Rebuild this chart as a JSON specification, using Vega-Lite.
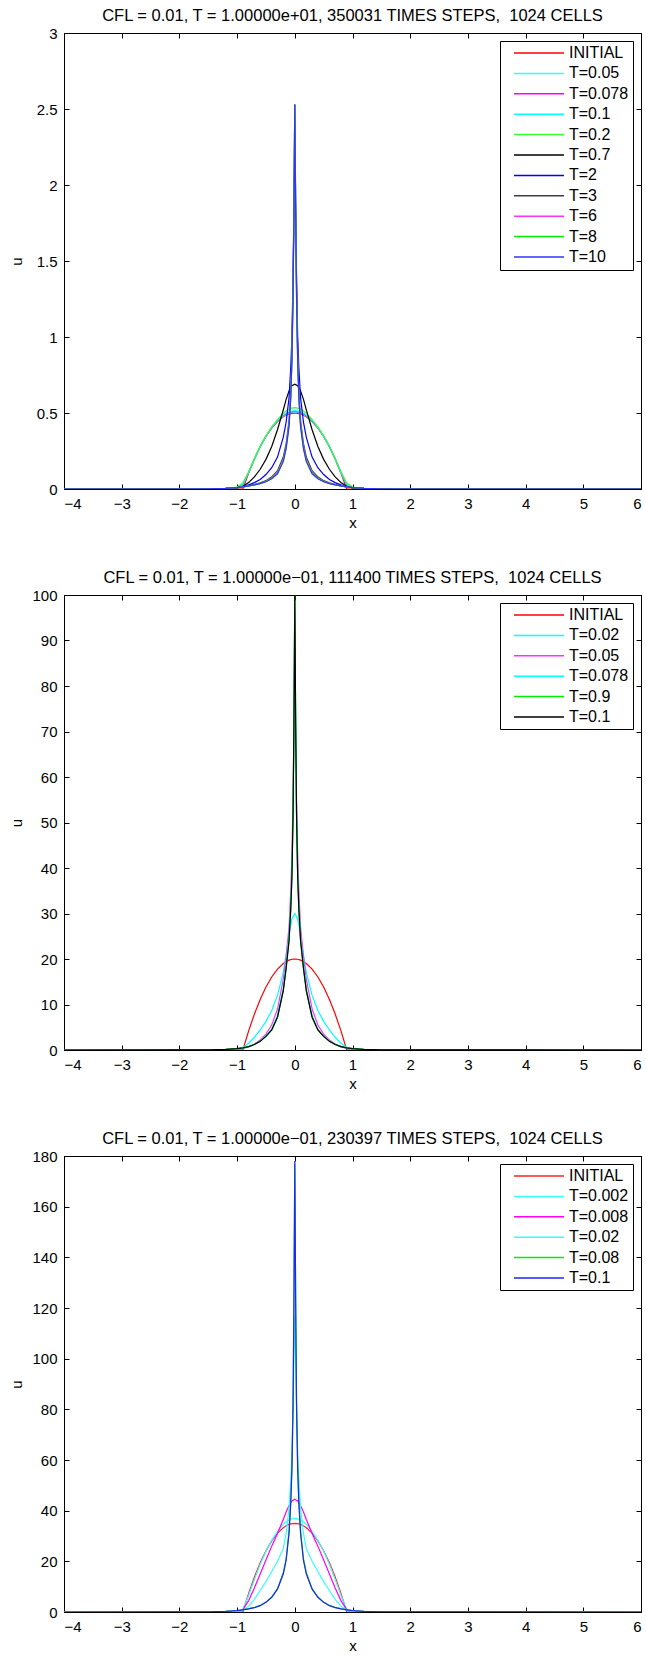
{
"$schema": "https://vega.github.io/schema/vega-lite/v6.json",
"background": "white",
"padding": {"left": 8, "top": 7, "right": 0, "bottom": 0},
"spacing": 38,
"config": {
  "font": "Liberation Sans",
  "view": {"stroke": "black", "strokeWidth": 1},
  "axis": {"grid": false, "domainColor": "black", "tickColor": "black", "labelColor": "black", "titleColor": "black", "labelFont": "Liberation Sans", "labelFontSize": 15, "titleFont": "Liberation Sans", "titleFontSize": 15, "titleFontWeight": "normal", "tickSize": -5, "labelPadding": 12, "domainWidth": 1, "tickWidth": 1},
  "title": {"font": "Liberation Sans", "fontSize": 16.5, "fontWeight": "normal", "color": "black", "frame": "group", "offset": 2},
  "legend": {"orient": "top-right", "offset": 8, "title": null, "symbolType": "M-5,0H5", "symbolSize": 100, "symbolStrokeWidth": 1.5, "symbolFillColor": "transparent", "symbolOffset": 27, "labelFont": "Liberation Sans", "labelFontSize": 16, "labelColor": "black", "strokeColor": "black", "fillColor": "white", "padding": 4, "rowPadding": 4.4, "labelOffset": 22, "labelLimit": 200}
},
"resolve": {"scale": {"color": "independent"}, "legend": {"color": "independent"}},
"vconcat": [
{
  "width": 577, "height": 456,
  "title": "CFL = 0.01, T = 1.00000e+01, 350031 TIMES STEPS, \u00a01024 CELLS",
  "data": {"values": [
{"s":"INITIAL","x":-4,"u":0},{"s":"INITIAL","x":-2,"u":0},{"s":"INITIAL","x":-1.5,"u":0},{"s":"INITIAL","x":-1.2,"u":0},{"s":"INITIAL","x":-1,"u":0},{"s":"INITIAL","x":-0.9,"u":0},{"s":"INITIAL","x":-0.8,"u":0.105},{"s":"INITIAL","x":-0.7,"u":0.198},{"s":"INITIAL","x":-0.6,"u":0.278},{"s":"INITIAL","x":-0.5,"u":0.346},{"s":"INITIAL","x":-0.4,"u":0.401},{"s":"INITIAL","x":-0.3,"u":0.444},{"s":"INITIAL","x":-0.2,"u":0.475},{"s":"INITIAL","x":-0.15,"u":0.486},{"s":"INITIAL","x":-0.1,"u":0.494},{"s":"INITIAL","x":-0.05,"u":0.498},{"s":"INITIAL","x":0,"u":0.5},{"s":"INITIAL","x":0.05,"u":0.498},{"s":"INITIAL","x":0.1,"u":0.494},{"s":"INITIAL","x":0.15,"u":0.486},{"s":"INITIAL","x":0.2,"u":0.475},{"s":"INITIAL","x":0.3,"u":0.444},{"s":"INITIAL","x":0.4,"u":0.401},{"s":"INITIAL","x":0.5,"u":0.346},{"s":"INITIAL","x":0.6,"u":0.278},{"s":"INITIAL","x":0.7,"u":0.198},{"s":"INITIAL","x":0.8,"u":0.105},{"s":"INITIAL","x":0.9,"u":0},{"s":"INITIAL","x":1,"u":0},{"s":"INITIAL","x":1.2,"u":0},{"s":"INITIAL","x":1.5,"u":0},{"s":"INITIAL","x":2,"u":0},{"s":"INITIAL","x":6,"u":0},
{"s":"T=0.05","x":-4,"u":0},{"s":"T=0.05","x":-2,"u":0},{"s":"T=0.05","x":-1.5,"u":0},{"s":"T=0.05","x":-1.2,"u":0.001},{"s":"T=0.05","x":-1,"u":0.006},{"s":"T=0.05","x":-0.9,"u":0.025},{"s":"T=0.05","x":-0.8,"u":0.108},{"s":"T=0.05","x":-0.7,"u":0.198},{"s":"T=0.05","x":-0.6,"u":0.279},{"s":"T=0.05","x":-0.5,"u":0.347},{"s":"T=0.05","x":-0.4,"u":0.403},{"s":"T=0.05","x":-0.3,"u":0.447},{"s":"T=0.05","x":-0.2,"u":0.479},{"s":"T=0.05","x":-0.15,"u":0.491},{"s":"T=0.05","x":-0.1,"u":0.5},{"s":"T=0.05","x":-0.05,"u":0.504},{"s":"T=0.05","x":0,"u":0.506},{"s":"T=0.05","x":0.05,"u":0.504},{"s":"T=0.05","x":0.1,"u":0.5},{"s":"T=0.05","x":0.15,"u":0.491},{"s":"T=0.05","x":0.2,"u":0.479},{"s":"T=0.05","x":0.3,"u":0.447},{"s":"T=0.05","x":0.4,"u":0.403},{"s":"T=0.05","x":0.5,"u":0.347},{"s":"T=0.05","x":0.6,"u":0.279},{"s":"T=0.05","x":0.7,"u":0.198},{"s":"T=0.05","x":0.8,"u":0.108},{"s":"T=0.05","x":0.9,"u":0.025},{"s":"T=0.05","x":1,"u":0.006},{"s":"T=0.05","x":1.2,"u":0.001},{"s":"T=0.05","x":1.5,"u":0},{"s":"T=0.05","x":2,"u":0},{"s":"T=0.05","x":6,"u":0},
{"s":"T=0.078","x":-4,"u":0},{"s":"T=0.078","x":-2,"u":0},{"s":"T=0.078","x":-1.5,"u":0},{"s":"T=0.078","x":-1.2,"u":0.002},{"s":"T=0.078","x":-1,"u":0.008},{"s":"T=0.078","x":-0.9,"u":0.03},{"s":"T=0.078","x":-0.8,"u":0.109},{"s":"T=0.078","x":-0.7,"u":0.198},{"s":"T=0.078","x":-0.6,"u":0.279},{"s":"T=0.078","x":-0.5,"u":0.347},{"s":"T=0.078","x":-0.4,"u":0.404},{"s":"T=0.078","x":-0.3,"u":0.449},{"s":"T=0.078","x":-0.2,"u":0.482},{"s":"T=0.078","x":-0.15,"u":0.495},{"s":"T=0.078","x":-0.1,"u":0.504},{"s":"T=0.078","x":-0.05,"u":0.508},{"s":"T=0.078","x":0,"u":0.51},{"s":"T=0.078","x":0.05,"u":0.508},{"s":"T=0.078","x":0.1,"u":0.504},{"s":"T=0.078","x":0.15,"u":0.495},{"s":"T=0.078","x":0.2,"u":0.482},{"s":"T=0.078","x":0.3,"u":0.449},{"s":"T=0.078","x":0.4,"u":0.404},{"s":"T=0.078","x":0.5,"u":0.347},{"s":"T=0.078","x":0.6,"u":0.279},{"s":"T=0.078","x":0.7,"u":0.198},{"s":"T=0.078","x":0.8,"u":0.109},{"s":"T=0.078","x":0.9,"u":0.03},{"s":"T=0.078","x":1,"u":0.008},{"s":"T=0.078","x":1.2,"u":0.002},{"s":"T=0.078","x":1.5,"u":0},{"s":"T=0.078","x":2,"u":0},{"s":"T=0.078","x":6,"u":0},
{"s":"T=0.1","x":-4,"u":0},{"s":"T=0.1","x":-2,"u":0},{"s":"T=0.1","x":-1.5,"u":0},{"s":"T=0.1","x":-1.2,"u":0.002},{"s":"T=0.1","x":-1,"u":0.01},{"s":"T=0.1","x":-0.9,"u":0.033},{"s":"T=0.1","x":-0.8,"u":0.11},{"s":"T=0.1","x":-0.7,"u":0.198},{"s":"T=0.1","x":-0.6,"u":0.279},{"s":"T=0.1","x":-0.5,"u":0.348},{"s":"T=0.1","x":-0.4,"u":0.405},{"s":"T=0.1","x":-0.3,"u":0.451},{"s":"T=0.1","x":-0.2,"u":0.486},{"s":"T=0.1","x":-0.15,"u":0.499},{"s":"T=0.1","x":-0.1,"u":0.508},{"s":"T=0.1","x":-0.05,"u":0.513},{"s":"T=0.1","x":0,"u":0.515},{"s":"T=0.1","x":0.05,"u":0.513},{"s":"T=0.1","x":0.1,"u":0.508},{"s":"T=0.1","x":0.15,"u":0.499},{"s":"T=0.1","x":0.2,"u":0.486},{"s":"T=0.1","x":0.3,"u":0.451},{"s":"T=0.1","x":0.4,"u":0.405},{"s":"T=0.1","x":0.5,"u":0.348},{"s":"T=0.1","x":0.6,"u":0.279},{"s":"T=0.1","x":0.7,"u":0.198},{"s":"T=0.1","x":0.8,"u":0.11},{"s":"T=0.1","x":0.9,"u":0.033},{"s":"T=0.1","x":1,"u":0.01},{"s":"T=0.1","x":1.2,"u":0.002},{"s":"T=0.1","x":1.5,"u":0},{"s":"T=0.1","x":2,"u":0},{"s":"T=0.1","x":6,"u":0},
{"s":"T=0.2","x":-4,"u":0},{"s":"T=0.2","x":-2,"u":0},{"s":"T=0.2","x":-1.5,"u":0.001},{"s":"T=0.2","x":-1.2,"u":0.003},{"s":"T=0.2","x":-1,"u":0.013},{"s":"T=0.2","x":-0.9,"u":0.04},{"s":"T=0.2","x":-0.8,"u":0.112},{"s":"T=0.2","x":-0.7,"u":0.198},{"s":"T=0.2","x":-0.6,"u":0.28},{"s":"T=0.2","x":-0.5,"u":0.35},{"s":"T=0.2","x":-0.4,"u":0.408},{"s":"T=0.2","x":-0.3,"u":0.457},{"s":"T=0.2","x":-0.2,"u":0.497},{"s":"T=0.2","x":-0.15,"u":0.513},{"s":"T=0.2","x":-0.1,"u":0.525},{"s":"T=0.2","x":-0.05,"u":0.532},{"s":"T=0.2","x":0,"u":0.535},{"s":"T=0.2","x":0.05,"u":0.532},{"s":"T=0.2","x":0.1,"u":0.525},{"s":"T=0.2","x":0.15,"u":0.513},{"s":"T=0.2","x":0.2,"u":0.497},{"s":"T=0.2","x":0.3,"u":0.457},{"s":"T=0.2","x":0.4,"u":0.408},{"s":"T=0.2","x":0.5,"u":0.35},{"s":"T=0.2","x":0.6,"u":0.28},{"s":"T=0.2","x":0.7,"u":0.198},{"s":"T=0.2","x":0.8,"u":0.112},{"s":"T=0.2","x":0.9,"u":0.04},{"s":"T=0.2","x":1,"u":0.013},{"s":"T=0.2","x":1.2,"u":0.003},{"s":"T=0.2","x":1.5,"u":0.001},{"s":"T=0.2","x":2,"u":0},{"s":"T=0.2","x":6,"u":0},
{"s":"T=0.7","x":-4,"u":0},{"s":"T=0.7","x":-2,"u":0},{"s":"T=0.7","x":-1.5,"u":0},{"s":"T=0.7","x":-1.2,"u":0.002},{"s":"T=0.7","x":-1,"u":0.007},{"s":"T=0.7","x":-0.9,"u":0.018},{"s":"T=0.7","x":-0.8,"u":0.042},{"s":"T=0.7","x":-0.7,"u":0.08},{"s":"T=0.7","x":-0.6,"u":0.13},{"s":"T=0.7","x":-0.5,"u":0.195},{"s":"T=0.7","x":-0.4,"u":0.28},{"s":"T=0.7","x":-0.3,"u":0.39},{"s":"T=0.7","x":-0.2,"u":0.52},{"s":"T=0.7","x":-0.15,"u":0.59},{"s":"T=0.7","x":-0.1,"u":0.645},{"s":"T=0.7","x":-0.05,"u":0.68},{"s":"T=0.7","x":0,"u":0.69},{"s":"T=0.7","x":0.05,"u":0.68},{"s":"T=0.7","x":0.1,"u":0.645},{"s":"T=0.7","x":0.15,"u":0.59},{"s":"T=0.7","x":0.2,"u":0.52},{"s":"T=0.7","x":0.3,"u":0.39},{"s":"T=0.7","x":0.4,"u":0.28},{"s":"T=0.7","x":0.5,"u":0.195},{"s":"T=0.7","x":0.6,"u":0.13},{"s":"T=0.7","x":0.7,"u":0.08},{"s":"T=0.7","x":0.8,"u":0.042},{"s":"T=0.7","x":0.9,"u":0.018},{"s":"T=0.7","x":1,"u":0.007},{"s":"T=0.7","x":1.2,"u":0.002},{"s":"T=0.7","x":1.5,"u":0},{"s":"T=0.7","x":2,"u":0},{"s":"T=0.7","x":6,"u":0},
{"s":"T=2","x":-4,"u":0},{"s":"T=2","x":-2,"u":0},{"s":"T=2","x":-1.5,"u":0.001},{"s":"T=2","x":-1.2,"u":0.004},{"s":"T=2","x":-1,"u":0.009},{"s":"T=2","x":-0.9,"u":0.016},{"s":"T=2","x":-0.8,"u":0.027},{"s":"T=2","x":-0.7,"u":0.042},{"s":"T=2","x":-0.6,"u":0.063},{"s":"T=2","x":-0.5,"u":0.095},{"s":"T=2","x":-0.4,"u":0.14},{"s":"T=2","x":-0.3,"u":0.21},{"s":"T=2","x":-0.2,"u":0.34},{"s":"T=2","x":-0.15,"u":0.44},{"s":"T=2","x":-0.1,"u":0.6},{"s":"T=2","x":-0.07,"u":0.8},{"s":"T=2","x":-0.05,"u":1.0},{"s":"T=2","x":-0.03,"u":1.4},{"s":"T=2","x":-0.015,"u":1.8},{"s":"T=2","x":0,"u":2.2},{"s":"T=2","x":0.015,"u":1.8},{"s":"T=2","x":0.03,"u":1.4},{"s":"T=2","x":0.05,"u":1.0},{"s":"T=2","x":0.07,"u":0.8},{"s":"T=2","x":0.1,"u":0.6},{"s":"T=2","x":0.15,"u":0.44},{"s":"T=2","x":0.2,"u":0.34},{"s":"T=2","x":0.3,"u":0.21},{"s":"T=2","x":0.4,"u":0.14},{"s":"T=2","x":0.5,"u":0.095},{"s":"T=2","x":0.6,"u":0.063},{"s":"T=2","x":0.7,"u":0.042},{"s":"T=2","x":0.8,"u":0.027},{"s":"T=2","x":0.9,"u":0.016},{"s":"T=2","x":1,"u":0.009},{"s":"T=2","x":1.2,"u":0.004},{"s":"T=2","x":1.5,"u":0.001},{"s":"T=2","x":2,"u":0},{"s":"T=2","x":6,"u":0},
{"s":"T=3","x":-4,"u":0},{"s":"T=3","x":-2,"u":0},{"s":"T=3","x":-1.5,"u":0.001},{"s":"T=3","x":-1.2,"u":0.004},{"s":"T=3","x":-1,"u":0.009},{"s":"T=3","x":-0.9,"u":0.014},{"s":"T=3","x":-0.8,"u":0.021},{"s":"T=3","x":-0.7,"u":0.03},{"s":"T=3","x":-0.6,"u":0.04},{"s":"T=3","x":-0.5,"u":0.055},{"s":"T=3","x":-0.4,"u":0.08},{"s":"T=3","x":-0.3,"u":0.12},{"s":"T=3","x":-0.2,"u":0.21},{"s":"T=3","x":-0.15,"u":0.3},{"s":"T=3","x":-0.1,"u":0.45},{"s":"T=3","x":-0.07,"u":0.65},{"s":"T=3","x":-0.05,"u":0.9},{"s":"T=3","x":-0.03,"u":1.35},{"s":"T=3","x":-0.015,"u":1.9},{"s":"T=3","x":0,"u":2.53},{"s":"T=3","x":0.015,"u":1.9},{"s":"T=3","x":0.03,"u":1.35},{"s":"T=3","x":0.05,"u":0.9},{"s":"T=3","x":0.07,"u":0.65},{"s":"T=3","x":0.1,"u":0.45},{"s":"T=3","x":0.15,"u":0.3},{"s":"T=3","x":0.2,"u":0.21},{"s":"T=3","x":0.3,"u":0.12},{"s":"T=3","x":0.4,"u":0.08},{"s":"T=3","x":0.5,"u":0.055},{"s":"T=3","x":0.6,"u":0.04},{"s":"T=3","x":0.7,"u":0.03},{"s":"T=3","x":0.8,"u":0.021},{"s":"T=3","x":0.9,"u":0.014},{"s":"T=3","x":1,"u":0.009},{"s":"T=3","x":1.2,"u":0.004},{"s":"T=3","x":1.5,"u":0.001},{"s":"T=3","x":2,"u":0},{"s":"T=3","x":6,"u":0},
{"s":"T=6","x":-4,"u":0},{"s":"T=6","x":-2,"u":0},{"s":"T=6","x":-1.5,"u":0.001},{"s":"T=6","x":-1.2,"u":0.004},{"s":"T=6","x":-1,"u":0.009},{"s":"T=6","x":-0.9,"u":0.014},{"s":"T=6","x":-0.8,"u":0.02},{"s":"T=6","x":-0.7,"u":0.028},{"s":"T=6","x":-0.6,"u":0.037},{"s":"T=6","x":-0.5,"u":0.05},{"s":"T=6","x":-0.4,"u":0.072},{"s":"T=6","x":-0.3,"u":0.11},{"s":"T=6","x":-0.2,"u":0.19},{"s":"T=6","x":-0.15,"u":0.28},{"s":"T=6","x":-0.1,"u":0.43},{"s":"T=6","x":-0.07,"u":0.62},{"s":"T=6","x":-0.05,"u":0.86},{"s":"T=6","x":-0.03,"u":1.3},{"s":"T=6","x":-0.015,"u":1.85},{"s":"T=6","x":0,"u":2.53},{"s":"T=6","x":0.015,"u":1.85},{"s":"T=6","x":0.03,"u":1.3},{"s":"T=6","x":0.05,"u":0.86},{"s":"T=6","x":0.07,"u":0.62},{"s":"T=6","x":0.1,"u":0.43},{"s":"T=6","x":0.15,"u":0.28},{"s":"T=6","x":0.2,"u":0.19},{"s":"T=6","x":0.3,"u":0.11},{"s":"T=6","x":0.4,"u":0.072},{"s":"T=6","x":0.5,"u":0.05},{"s":"T=6","x":0.6,"u":0.037},{"s":"T=6","x":0.7,"u":0.028},{"s":"T=6","x":0.8,"u":0.02},{"s":"T=6","x":0.9,"u":0.014},{"s":"T=6","x":1,"u":0.009},{"s":"T=6","x":1.2,"u":0.004},{"s":"T=6","x":1.5,"u":0.001},{"s":"T=6","x":2,"u":0},{"s":"T=6","x":6,"u":0},
{"s":"T=8","x":-4,"u":0},{"s":"T=8","x":-2,"u":0},{"s":"T=8","x":-1.5,"u":0.001},{"s":"T=8","x":-1.2,"u":0.004},{"s":"T=8","x":-1,"u":0.009},{"s":"T=8","x":-0.9,"u":0.014},{"s":"T=8","x":-0.8,"u":0.02},{"s":"T=8","x":-0.7,"u":0.027},{"s":"T=8","x":-0.6,"u":0.036},{"s":"T=8","x":-0.5,"u":0.049},{"s":"T=8","x":-0.4,"u":0.07},{"s":"T=8","x":-0.3,"u":0.105},{"s":"T=8","x":-0.2,"u":0.185},{"s":"T=8","x":-0.15,"u":0.27},{"s":"T=8","x":-0.1,"u":0.42},{"s":"T=8","x":-0.07,"u":0.6},{"s":"T=8","x":-0.05,"u":0.85},{"s":"T=8","x":-0.03,"u":1.28},{"s":"T=8","x":-0.015,"u":1.83},{"s":"T=8","x":0,"u":2.53},{"s":"T=8","x":0.015,"u":1.83},{"s":"T=8","x":0.03,"u":1.28},{"s":"T=8","x":0.05,"u":0.85},{"s":"T=8","x":0.07,"u":0.6},{"s":"T=8","x":0.1,"u":0.42},{"s":"T=8","x":0.15,"u":0.27},{"s":"T=8","x":0.2,"u":0.185},{"s":"T=8","x":0.3,"u":0.105},{"s":"T=8","x":0.4,"u":0.07},{"s":"T=8","x":0.5,"u":0.049},{"s":"T=8","x":0.6,"u":0.036},{"s":"T=8","x":0.7,"u":0.027},{"s":"T=8","x":0.8,"u":0.02},{"s":"T=8","x":0.9,"u":0.014},{"s":"T=8","x":1,"u":0.009},{"s":"T=8","x":1.2,"u":0.004},{"s":"T=8","x":1.5,"u":0.001},{"s":"T=8","x":2,"u":0},{"s":"T=8","x":6,"u":0},
{"s":"T=10","x":-4,"u":0},{"s":"T=10","x":-2,"u":0},{"s":"T=10","x":-1.5,"u":0.001},{"s":"T=10","x":-1.2,"u":0.004},{"s":"T=10","x":-1,"u":0.009},{"s":"T=10","x":-0.9,"u":0.014},{"s":"T=10","x":-0.8,"u":0.02},{"s":"T=10","x":-0.7,"u":0.027},{"s":"T=10","x":-0.6,"u":0.035},{"s":"T=10","x":-0.5,"u":0.048},{"s":"T=10","x":-0.4,"u":0.068},{"s":"T=10","x":-0.3,"u":0.1},{"s":"T=10","x":-0.2,"u":0.18},{"s":"T=10","x":-0.15,"u":0.265},{"s":"T=10","x":-0.1,"u":0.41},{"s":"T=10","x":-0.07,"u":0.6},{"s":"T=10","x":-0.05,"u":0.84},{"s":"T=10","x":-0.03,"u":1.27},{"s":"T=10","x":-0.015,"u":1.82},{"s":"T=10","x":0,"u":2.53},{"s":"T=10","x":0.015,"u":1.82},{"s":"T=10","x":0.03,"u":1.27},{"s":"T=10","x":0.05,"u":0.84},{"s":"T=10","x":0.07,"u":0.6},{"s":"T=10","x":0.1,"u":0.41},{"s":"T=10","x":0.15,"u":0.265},{"s":"T=10","x":0.2,"u":0.18},{"s":"T=10","x":0.3,"u":0.1},{"s":"T=10","x":0.4,"u":0.068},{"s":"T=10","x":0.5,"u":0.048},{"s":"T=10","x":0.6,"u":0.035},{"s":"T=10","x":0.7,"u":0.027},{"s":"T=10","x":0.8,"u":0.02},{"s":"T=10","x":0.9,"u":0.014},{"s":"T=10","x":1,"u":0.009},{"s":"T=10","x":1.2,"u":0.004},{"s":"T=10","x":1.5,"u":0.001},{"s":"T=10","x":2,"u":0},{"s":"T=10","x":6,"u":0}
  ]},
  "layer": [
    {"mark": {"type": "line", "strokeWidth": 1.2, "clip": true},
     "encoding": {
       "x": {"field": "x", "type": "quantitative", "scale": {"domain": [-4, 6], "nice": false}, "axis": {"values": [-4,-3,-2,-1,0,1,2,3,4,5,6], "title": "x", "titlePadding": 4}},
       "y": {"field": "u", "type": "quantitative", "scale": {"domain": [0, 3], "nice": false}, "axis": {"values": [0,0.5,1,1.5,2,2.5,3], "format": "~r", "title": "u", "titleX": -43, "titleBaseline": "alphabetic"}},
       "color": {"field": "s", "type": "nominal", "scale": {"domain": ["INITIAL","T=0.05","T=0.078","T=0.1","T=0.2","T=0.7","T=2","T=3","T=6","T=8","T=10"], "range": ["#ff0000","#33ffff","#ff00ff","#00ffff","#33ff33","#000000","#0000ff","#404040","#ff33ff","#00ee00","#3333ff"]}}
     }},
    {"mark": {"type": "line", "opacity": 0},
     "encoding": {
       "x": {"field": "x", "type": "quantitative", "scale": {"domain": [-4, 6], "nice": false}, "axis": {"orient": "top", "values": [-4,-3,-2,-1,0,1,2,3,4,5,6], "labels": false, "title": null}},
       "y": {"field": "u", "type": "quantitative", "scale": {"domain": [0, 3], "nice": false}, "axis": {"orient": "right", "values": [0,0.5,1,1.5,2,2.5,3], "labels": false, "title": null}},
       "detail": {"field": "s"}
     }}
  ],
  "resolve": {"axis": {"x": "independent", "y": "independent"}}
},
{
  "width": 577, "height": 455,
  "title": "CFL = 0.01, T = 1.00000e−01, 111400 TIMES STEPS, \u00a01024 CELLS",
  "data": {"values": [
{"s":"INITIAL","x":-4,"u":0},{"s":"INITIAL","x":-2,"u":0},{"s":"INITIAL","x":-1.5,"u":0},{"s":"INITIAL","x":-1.2,"u":0},{"s":"INITIAL","x":-1,"u":0},{"s":"INITIAL","x":-0.9,"u":0},{"s":"INITIAL","x":-0.8,"u":4.2},{"s":"INITIAL","x":-0.7,"u":7.9},{"s":"INITIAL","x":-0.6,"u":11.11},{"s":"INITIAL","x":-0.5,"u":13.83},{"s":"INITIAL","x":-0.4,"u":16.05},{"s":"INITIAL","x":-0.3,"u":17.78},{"s":"INITIAL","x":-0.2,"u":19.01},{"s":"INITIAL","x":-0.15,"u":19.44},{"s":"INITIAL","x":-0.1,"u":19.75},{"s":"INITIAL","x":-0.05,"u":19.94},{"s":"INITIAL","x":0,"u":20},{"s":"INITIAL","x":0.05,"u":19.94},{"s":"INITIAL","x":0.1,"u":19.75},{"s":"INITIAL","x":0.15,"u":19.44},{"s":"INITIAL","x":0.2,"u":19.01},{"s":"INITIAL","x":0.3,"u":17.78},{"s":"INITIAL","x":0.4,"u":16.05},{"s":"INITIAL","x":0.5,"u":13.83},{"s":"INITIAL","x":0.6,"u":11.11},{"s":"INITIAL","x":0.7,"u":7.9},{"s":"INITIAL","x":0.8,"u":4.2},{"s":"INITIAL","x":0.9,"u":0},{"s":"INITIAL","x":1,"u":0},{"s":"INITIAL","x":1.2,"u":0},{"s":"INITIAL","x":1.5,"u":0},{"s":"INITIAL","x":2,"u":0},{"s":"INITIAL","x":6,"u":0},
{"s":"T=0.02","x":-4,"u":0},{"s":"T=0.02","x":-2,"u":0},{"s":"T=0.02","x":-1.5,"u":0.01},{"s":"T=0.02","x":-1.2,"u":0.06},{"s":"T=0.02","x":-1,"u":0.25},{"s":"T=0.02","x":-0.9,"u":0.6},{"s":"T=0.02","x":-0.8,"u":1.5},{"s":"T=0.02","x":-0.7,"u":2.8},{"s":"T=0.02","x":-0.6,"u":4.4},{"s":"T=0.02","x":-0.5,"u":6.3},{"s":"T=0.02","x":-0.4,"u":8.7},{"s":"T=0.02","x":-0.3,"u":12},{"s":"T=0.02","x":-0.2,"u":17},{"s":"T=0.02","x":-0.15,"u":21},{"s":"T=0.02","x":-0.1,"u":25.5},{"s":"T=0.02","x":-0.05,"u":28.8},{"s":"T=0.02","x":0,"u":30},{"s":"T=0.02","x":0.05,"u":28.8},{"s":"T=0.02","x":0.1,"u":25.5},{"s":"T=0.02","x":0.15,"u":21},{"s":"T=0.02","x":0.2,"u":17},{"s":"T=0.02","x":0.3,"u":12},{"s":"T=0.02","x":0.4,"u":8.7},{"s":"T=0.02","x":0.5,"u":6.3},{"s":"T=0.02","x":0.6,"u":4.4},{"s":"T=0.02","x":0.7,"u":2.8},{"s":"T=0.02","x":0.8,"u":1.5},{"s":"T=0.02","x":0.9,"u":0.6},{"s":"T=0.02","x":1,"u":0.25},{"s":"T=0.02","x":1.2,"u":0.06},{"s":"T=0.02","x":1.5,"u":0.01},{"s":"T=0.02","x":2,"u":0},{"s":"T=0.02","x":6,"u":0},
{"s":"T=0.05","x":-4,"u":0},{"s":"T=0.05","x":-2,"u":0},{"s":"T=0.05","x":-1.5,"u":0.01},{"s":"T=0.05","x":-1.2,"u":0.05},{"s":"T=0.05","x":-1,"u":0.15},{"s":"T=0.05","x":-0.9,"u":0.35},{"s":"T=0.05","x":-0.8,"u":0.7},{"s":"T=0.05","x":-0.7,"u":1.3},{"s":"T=0.05","x":-0.6,"u":2.2},{"s":"T=0.05","x":-0.5,"u":3.5},{"s":"T=0.05","x":-0.4,"u":5.5},{"s":"T=0.05","x":-0.3,"u":9},{"s":"T=0.05","x":-0.2,"u":15.5},{"s":"T=0.05","x":-0.15,"u":20.5},{"s":"T=0.05","x":-0.1,"u":27},{"s":"T=0.05","x":-0.07,"u":35},{"s":"T=0.05","x":-0.05,"u":43},{"s":"T=0.05","x":-0.03,"u":55},{"s":"T=0.05","x":-0.015,"u":70},{"s":"T=0.05","x":0,"u":88},{"s":"T=0.05","x":0.015,"u":70},{"s":"T=0.05","x":0.03,"u":55},{"s":"T=0.05","x":0.05,"u":43},{"s":"T=0.05","x":0.07,"u":35},{"s":"T=0.05","x":0.1,"u":27},{"s":"T=0.05","x":0.15,"u":20.5},{"s":"T=0.05","x":0.2,"u":15.5},{"s":"T=0.05","x":0.3,"u":9},{"s":"T=0.05","x":0.4,"u":5.5},{"s":"T=0.05","x":0.5,"u":3.5},{"s":"T=0.05","x":0.6,"u":2.2},{"s":"T=0.05","x":0.7,"u":1.3},{"s":"T=0.05","x":0.8,"u":0.7},{"s":"T=0.05","x":0.9,"u":0.35},{"s":"T=0.05","x":1,"u":0.15},{"s":"T=0.05","x":1.2,"u":0.05},{"s":"T=0.05","x":1.5,"u":0.01},{"s":"T=0.05","x":2,"u":0},{"s":"T=0.05","x":6,"u":0},
{"s":"T=0.078","x":-4,"u":0},{"s":"T=0.078","x":-2,"u":0},{"s":"T=0.078","x":-1.5,"u":0.03},{"s":"T=0.078","x":-1.2,"u":0.1},{"s":"T=0.078","x":-1,"u":0.28},{"s":"T=0.078","x":-0.9,"u":0.45},{"s":"T=0.078","x":-0.8,"u":0.75},{"s":"T=0.078","x":-0.7,"u":1.25},{"s":"T=0.078","x":-0.6,"u":2},{"s":"T=0.078","x":-0.5,"u":3.1},{"s":"T=0.078","x":-0.4,"u":4.6},{"s":"T=0.078","x":-0.3,"u":7.6},{"s":"T=0.078","x":-0.2,"u":13.5},{"s":"T=0.078","x":-0.15,"u":18.5},{"s":"T=0.078","x":-0.1,"u":25},{"s":"T=0.078","x":-0.07,"u":32},{"s":"T=0.078","x":-0.05,"u":39},{"s":"T=0.078","x":-0.03,"u":52},{"s":"T=0.078","x":-0.015,"u":72},{"s":"T=0.078","x":0,"u":99},{"s":"T=0.078","x":0.015,"u":72},{"s":"T=0.078","x":0.03,"u":52},{"s":"T=0.078","x":0.05,"u":39},{"s":"T=0.078","x":0.07,"u":32},{"s":"T=0.078","x":0.1,"u":25},{"s":"T=0.078","x":0.15,"u":18.5},{"s":"T=0.078","x":0.2,"u":13.5},{"s":"T=0.078","x":0.3,"u":7.6},{"s":"T=0.078","x":0.4,"u":4.6},{"s":"T=0.078","x":0.5,"u":3.1},{"s":"T=0.078","x":0.6,"u":2},{"s":"T=0.078","x":0.7,"u":1.25},{"s":"T=0.078","x":0.8,"u":0.75},{"s":"T=0.078","x":0.9,"u":0.45},{"s":"T=0.078","x":1,"u":0.28},{"s":"T=0.078","x":1.2,"u":0.1},{"s":"T=0.078","x":1.5,"u":0.03},{"s":"T=0.078","x":2,"u":0},{"s":"T=0.078","x":6,"u":0},
{"s":"T=0.9","x":-4,"u":0},{"s":"T=0.9","x":-2,"u":0.01},{"s":"T=0.9","x":-1.5,"u":0.04},{"s":"T=0.9","x":-1.2,"u":0.12},{"s":"T=0.9","x":-1,"u":0.3},{"s":"T=0.9","x":-0.9,"u":0.45},{"s":"T=0.9","x":-0.8,"u":0.75},{"s":"T=0.9","x":-0.7,"u":1.2},{"s":"T=0.9","x":-0.6,"u":1.9},{"s":"T=0.9","x":-0.5,"u":3},{"s":"T=0.9","x":-0.4,"u":4.4},{"s":"T=0.9","x":-0.3,"u":7.2},{"s":"T=0.9","x":-0.2,"u":13},{"s":"T=0.9","x":-0.15,"u":18},{"s":"T=0.9","x":-0.1,"u":24},{"s":"T=0.9","x":-0.07,"u":31},{"s":"T=0.9","x":-0.05,"u":38},{"s":"T=0.9","x":-0.03,"u":52},{"s":"T=0.9","x":-0.015,"u":72},{"s":"T=0.9","x":0,"u":100},{"s":"T=0.9","x":0.015,"u":72},{"s":"T=0.9","x":0.03,"u":52},{"s":"T=0.9","x":0.05,"u":38},{"s":"T=0.9","x":0.07,"u":31},{"s":"T=0.9","x":0.1,"u":24},{"s":"T=0.9","x":0.15,"u":18},{"s":"T=0.9","x":0.2,"u":13},{"s":"T=0.9","x":0.3,"u":7.2},{"s":"T=0.9","x":0.4,"u":4.4},{"s":"T=0.9","x":0.5,"u":3},{"s":"T=0.9","x":0.6,"u":1.9},{"s":"T=0.9","x":0.7,"u":1.2},{"s":"T=0.9","x":0.8,"u":0.75},{"s":"T=0.9","x":0.9,"u":0.45},{"s":"T=0.9","x":1,"u":0.3},{"s":"T=0.9","x":1.2,"u":0.12},{"s":"T=0.9","x":1.5,"u":0.04},{"s":"T=0.9","x":2,"u":0.01},{"s":"T=0.9","x":6,"u":0},
{"s":"T=0.1","x":-4,"u":0},{"s":"T=0.1","x":-2,"u":0.01},{"s":"T=0.1","x":-1.5,"u":0.04},{"s":"T=0.1","x":-1.2,"u":0.12},{"s":"T=0.1","x":-1,"u":0.3},{"s":"T=0.1","x":-0.9,"u":0.45},{"s":"T=0.1","x":-0.8,"u":0.75},{"s":"T=0.1","x":-0.7,"u":1.2},{"s":"T=0.1","x":-0.6,"u":1.9},{"s":"T=0.1","x":-0.5,"u":3},{"s":"T=0.1","x":-0.4,"u":4.4},{"s":"T=0.1","x":-0.3,"u":7.2},{"s":"T=0.1","x":-0.2,"u":13},{"s":"T=0.1","x":-0.15,"u":18},{"s":"T=0.1","x":-0.1,"u":24},{"s":"T=0.1","x":-0.07,"u":31},{"s":"T=0.1","x":-0.05,"u":38},{"s":"T=0.1","x":-0.03,"u":52},{"s":"T=0.1","x":-0.015,"u":72},{"s":"T=0.1","x":0,"u":100},{"s":"T=0.1","x":0.015,"u":72},{"s":"T=0.1","x":0.03,"u":52},{"s":"T=0.1","x":0.05,"u":38},{"s":"T=0.1","x":0.07,"u":31},{"s":"T=0.1","x":0.1,"u":24},{"s":"T=0.1","x":0.15,"u":18},{"s":"T=0.1","x":0.2,"u":13},{"s":"T=0.1","x":0.3,"u":7.2},{"s":"T=0.1","x":0.4,"u":4.4},{"s":"T=0.1","x":0.5,"u":3},{"s":"T=0.1","x":0.6,"u":1.9},{"s":"T=0.1","x":0.7,"u":1.2},{"s":"T=0.1","x":0.8,"u":0.75},{"s":"T=0.1","x":0.9,"u":0.45},{"s":"T=0.1","x":1,"u":0.3},{"s":"T=0.1","x":1.2,"u":0.12},{"s":"T=0.1","x":1.5,"u":0.04},{"s":"T=0.1","x":2,"u":0.01},{"s":"T=0.1","x":6,"u":0}
  ]},
  "layer": [
    {"mark": {"type": "line", "strokeWidth": 1.2, "clip": true},
     "encoding": {
       "x": {"field": "x", "type": "quantitative", "scale": {"domain": [-4, 6], "nice": false}, "axis": {"values": [-4,-3,-2,-1,0,1,2,3,4,5,6], "title": "x", "titlePadding": 4}},
       "y": {"field": "u", "type": "quantitative", "scale": {"domain": [0, 100], "nice": false}, "axis": {"values": [0,10,20,30,40,50,60,70,80,90,100], "format": "~r", "title": "u", "titleX": -43, "titleBaseline": "alphabetic"}},
       "color": {"field": "s", "type": "nominal", "scale": {"domain": ["INITIAL","T=0.02","T=0.05","T=0.078","T=0.9","T=0.1"], "range": ["#ff0000","#00ffff","#ff33ff","#00ffff","#00ee00","#000000"]}}
     }},
    {"mark": {"type": "line", "opacity": 0},
     "encoding": {
       "x": {"field": "x", "type": "quantitative", "scale": {"domain": [-4, 6], "nice": false}, "axis": {"orient": "top", "values": [-4,-3,-2,-1,0,1,2,3,4,5,6], "labels": false, "title": null}},
       "y": {"field": "u", "type": "quantitative", "scale": {"domain": [0, 100], "nice": false}, "axis": {"orient": "right", "values": [0,10,20,30,40,50,60,70,80,90,100], "labels": false, "title": null}},
       "detail": {"field": "s"}
     }}
  ],
  "resolve": {"axis": {"x": "independent", "y": "independent"}}
},
{
  "width": 577, "height": 456,
  "title": "CFL = 0.01, T = 1.00000e−01, 230397 TIMES STEPS, \u00a01024 CELLS",
  "data": {"values": [
{"s":"INITIAL","x":-4,"u":0},{"s":"INITIAL","x":-2,"u":0},{"s":"INITIAL","x":-1.5,"u":0},{"s":"INITIAL","x":-1.2,"u":0},{"s":"INITIAL","x":-1,"u":0},{"s":"INITIAL","x":-0.9,"u":0},{"s":"INITIAL","x":-0.8,"u":7.35},{"s":"INITIAL","x":-0.7,"u":13.83},{"s":"INITIAL","x":-0.6,"u":19.44},{"s":"INITIAL","x":-0.5,"u":24.2},{"s":"INITIAL","x":-0.4,"u":28.09},{"s":"INITIAL","x":-0.3,"u":31.11},{"s":"INITIAL","x":-0.2,"u":33.27},{"s":"INITIAL","x":-0.15,"u":34.03},{"s":"INITIAL","x":-0.1,"u":34.57},{"s":"INITIAL","x":-0.05,"u":34.89},{"s":"INITIAL","x":0,"u":35},{"s":"INITIAL","x":0.05,"u":34.89},{"s":"INITIAL","x":0.1,"u":34.57},{"s":"INITIAL","x":0.15,"u":34.03},{"s":"INITIAL","x":0.2,"u":33.27},{"s":"INITIAL","x":0.3,"u":31.11},{"s":"INITIAL","x":0.4,"u":28.09},{"s":"INITIAL","x":0.5,"u":24.2},{"s":"INITIAL","x":0.6,"u":19.44},{"s":"INITIAL","x":0.7,"u":13.83},{"s":"INITIAL","x":0.8,"u":7.35},{"s":"INITIAL","x":0.9,"u":0},{"s":"INITIAL","x":1,"u":0},{"s":"INITIAL","x":1.2,"u":0},{"s":"INITIAL","x":1.5,"u":0},{"s":"INITIAL","x":2,"u":0},{"s":"INITIAL","x":6,"u":0},
{"s":"T=0.002","x":-4,"u":0},{"s":"T=0.002","x":-2,"u":0},{"s":"T=0.002","x":-1.5,"u":0},{"s":"T=0.002","x":-1.2,"u":0.02},{"s":"T=0.002","x":-1,"u":0.2},{"s":"T=0.002","x":-0.9,"u":1.2},{"s":"T=0.002","x":-0.8,"u":6.5},{"s":"T=0.002","x":-0.7,"u":12.8},{"s":"T=0.002","x":-0.6,"u":18.8},{"s":"T=0.002","x":-0.5,"u":24},{"s":"T=0.002","x":-0.4,"u":28.3},{"s":"T=0.002","x":-0.3,"u":31.8},{"s":"T=0.002","x":-0.2,"u":34.6},{"s":"T=0.002","x":-0.15,"u":35.6},{"s":"T=0.002","x":-0.1,"u":36.3},{"s":"T=0.002","x":-0.05,"u":36.8},{"s":"T=0.002","x":0,"u":37},{"s":"T=0.002","x":0.05,"u":36.8},{"s":"T=0.002","x":0.1,"u":36.3},{"s":"T=0.002","x":0.15,"u":35.6},{"s":"T=0.002","x":0.2,"u":34.6},{"s":"T=0.002","x":0.3,"u":31.8},{"s":"T=0.002","x":0.4,"u":28.3},{"s":"T=0.002","x":0.5,"u":24},{"s":"T=0.002","x":0.6,"u":18.8},{"s":"T=0.002","x":0.7,"u":12.8},{"s":"T=0.002","x":0.8,"u":6.5},{"s":"T=0.002","x":0.9,"u":1.2},{"s":"T=0.002","x":1,"u":0.2},{"s":"T=0.002","x":1.2,"u":0.02},{"s":"T=0.002","x":1.5,"u":0},{"s":"T=0.002","x":2,"u":0},{"s":"T=0.002","x":6,"u":0},
{"s":"T=0.008","x":-4,"u":0},{"s":"T=0.008","x":-2,"u":0},{"s":"T=0.008","x":-1.5,"u":0},{"s":"T=0.008","x":-1.2,"u":0.04},{"s":"T=0.008","x":-1,"u":0.25},{"s":"T=0.008","x":-0.9,"u":0.9},{"s":"T=0.008","x":-0.8,"u":4.5},{"s":"T=0.008","x":-0.7,"u":9.5},{"s":"T=0.008","x":-0.6,"u":15},{"s":"T=0.008","x":-0.5,"u":20.5},{"s":"T=0.008","x":-0.4,"u":26},{"s":"T=0.008","x":-0.3,"u":31},{"s":"T=0.008","x":-0.2,"u":36.5},{"s":"T=0.008","x":-0.15,"u":39.5},{"s":"T=0.008","x":-0.1,"u":42},{"s":"T=0.008","x":-0.05,"u":43.8},{"s":"T=0.008","x":0,"u":44.5},{"s":"T=0.008","x":0.05,"u":43.8},{"s":"T=0.008","x":0.1,"u":42},{"s":"T=0.008","x":0.15,"u":39.5},{"s":"T=0.008","x":0.2,"u":36.5},{"s":"T=0.008","x":0.3,"u":31},{"s":"T=0.008","x":0.4,"u":26},{"s":"T=0.008","x":0.5,"u":20.5},{"s":"T=0.008","x":0.6,"u":15},{"s":"T=0.008","x":0.7,"u":9.5},{"s":"T=0.008","x":0.8,"u":4.5},{"s":"T=0.008","x":0.9,"u":0.9},{"s":"T=0.008","x":1,"u":0.25},{"s":"T=0.008","x":1.2,"u":0.04},{"s":"T=0.008","x":1.5,"u":0},{"s":"T=0.008","x":2,"u":0},{"s":"T=0.008","x":6,"u":0},
{"s":"T=0.02","x":-4,"u":0},{"s":"T=0.02","x":-2,"u":0},{"s":"T=0.02","x":-1.5,"u":0.01},{"s":"T=0.02","x":-1.2,"u":0.05},{"s":"T=0.02","x":-1,"u":0.25},{"s":"T=0.02","x":-0.9,"u":0.7},{"s":"T=0.02","x":-0.8,"u":2.3},{"s":"T=0.02","x":-0.7,"u":5},{"s":"T=0.02","x":-0.6,"u":8.5},{"s":"T=0.02","x":-0.5,"u":12},{"s":"T=0.02","x":-0.4,"u":16},{"s":"T=0.02","x":-0.3,"u":20},{"s":"T=0.02","x":-0.2,"u":25},{"s":"T=0.02","x":-0.15,"u":31},{"s":"T=0.02","x":-0.1,"u":41},{"s":"T=0.02","x":-0.07,"u":52},{"s":"T=0.02","x":-0.05,"u":63},{"s":"T=0.02","x":-0.03,"u":82},{"s":"T=0.02","x":-0.015,"u":100},{"s":"T=0.02","x":0,"u":117},{"s":"T=0.02","x":0.015,"u":100},{"s":"T=0.02","x":0.03,"u":82},{"s":"T=0.02","x":0.05,"u":63},{"s":"T=0.02","x":0.07,"u":52},{"s":"T=0.02","x":0.1,"u":41},{"s":"T=0.02","x":0.15,"u":31},{"s":"T=0.02","x":0.2,"u":25},{"s":"T=0.02","x":0.3,"u":20},{"s":"T=0.02","x":0.4,"u":16},{"s":"T=0.02","x":0.5,"u":12},{"s":"T=0.02","x":0.6,"u":8.5},{"s":"T=0.02","x":0.7,"u":5},{"s":"T=0.02","x":0.8,"u":2.3},{"s":"T=0.02","x":0.9,"u":0.7},{"s":"T=0.02","x":1,"u":0.25},{"s":"T=0.02","x":1.2,"u":0.05},{"s":"T=0.02","x":1.5,"u":0.01},{"s":"T=0.02","x":2,"u":0},{"s":"T=0.02","x":6,"u":0},
{"s":"T=0.08","x":-4,"u":0},{"s":"T=0.08","x":-2,"u":0.02},{"s":"T=0.08","x":-1.5,"u":0.1},{"s":"T=0.08","x":-1.2,"u":0.3},{"s":"T=0.08","x":-1,"u":0.6},{"s":"T=0.08","x":-0.9,"u":0.9},{"s":"T=0.08","x":-0.8,"u":1.3},{"s":"T=0.08","x":-0.7,"u":1.8},{"s":"T=0.08","x":-0.6,"u":2.6},{"s":"T=0.08","x":-0.5,"u":3.9},{"s":"T=0.08","x":-0.4,"u":5.9},{"s":"T=0.08","x":-0.3,"u":9.2},{"s":"T=0.08","x":-0.2,"u":15.5},{"s":"T=0.08","x":-0.15,"u":21},{"s":"T=0.08","x":-0.1,"u":32},{"s":"T=0.08","x":-0.07,"u":44},{"s":"T=0.08","x":-0.05,"u":58},{"s":"T=0.08","x":-0.03,"u":84},{"s":"T=0.08","x":-0.015,"u":125},{"s":"T=0.08","x":0,"u":177},{"s":"T=0.08","x":0.015,"u":125},{"s":"T=0.08","x":0.03,"u":84},{"s":"T=0.08","x":0.05,"u":58},{"s":"T=0.08","x":0.07,"u":44},{"s":"T=0.08","x":0.1,"u":32},{"s":"T=0.08","x":0.15,"u":21},{"s":"T=0.08","x":0.2,"u":15.5},{"s":"T=0.08","x":0.3,"u":9.2},{"s":"T=0.08","x":0.4,"u":5.9},{"s":"T=0.08","x":0.5,"u":3.9},{"s":"T=0.08","x":0.6,"u":2.6},{"s":"T=0.08","x":0.7,"u":1.8},{"s":"T=0.08","x":0.8,"u":1.3},{"s":"T=0.08","x":0.9,"u":0.9},{"s":"T=0.08","x":1,"u":0.6},{"s":"T=0.08","x":1.2,"u":0.3},{"s":"T=0.08","x":1.5,"u":0.1},{"s":"T=0.08","x":2,"u":0.02},{"s":"T=0.08","x":6,"u":0},
{"s":"T=0.1","x":-4,"u":0},{"s":"T=0.1","x":-2,"u":0.02},{"s":"T=0.1","x":-1.5,"u":0.09},{"s":"T=0.1","x":-1.2,"u":0.28},{"s":"T=0.1","x":-1,"u":0.55},{"s":"T=0.1","x":-0.9,"u":0.85},{"s":"T=0.1","x":-0.8,"u":1.2},{"s":"T=0.1","x":-0.7,"u":1.7},{"s":"T=0.1","x":-0.6,"u":2.5},{"s":"T=0.1","x":-0.5,"u":3.8},{"s":"T=0.1","x":-0.4,"u":5.8},{"s":"T=0.1","x":-0.3,"u":9},{"s":"T=0.1","x":-0.2,"u":15},{"s":"T=0.1","x":-0.15,"u":20.5},{"s":"T=0.1","x":-0.1,"u":31},{"s":"T=0.1","x":-0.07,"u":43},{"s":"T=0.1","x":-0.05,"u":56},{"s":"T=0.1","x":-0.03,"u":81},{"s":"T=0.1","x":-0.015,"u":122},{"s":"T=0.1","x":0,"u":178},{"s":"T=0.1","x":0.015,"u":122},{"s":"T=0.1","x":0.03,"u":81},{"s":"T=0.1","x":0.05,"u":56},{"s":"T=0.1","x":0.07,"u":43},{"s":"T=0.1","x":0.1,"u":31},{"s":"T=0.1","x":0.15,"u":20.5},{"s":"T=0.1","x":0.2,"u":15},{"s":"T=0.1","x":0.3,"u":9},{"s":"T=0.1","x":0.4,"u":5.8},{"s":"T=0.1","x":0.5,"u":3.8},{"s":"T=0.1","x":0.6,"u":2.5},{"s":"T=0.1","x":0.7,"u":1.7},{"s":"T=0.1","x":0.8,"u":1.2},{"s":"T=0.1","x":0.9,"u":0.85},{"s":"T=0.1","x":1,"u":0.55},{"s":"T=0.1","x":1.2,"u":0.28},{"s":"T=0.1","x":1.5,"u":0.09},{"s":"T=0.1","x":2,"u":0.02},{"s":"T=0.1","x":6,"u":0}
  ]},
  "layer": [
    {"mark": {"type": "line", "strokeWidth": 1.2, "clip": true},
     "encoding": {
       "x": {"field": "x", "type": "quantitative", "scale": {"domain": [-4, 6], "nice": false}, "axis": {"values": [-4,-3,-2,-1,0,1,2,3,4,5,6], "title": "x", "titlePadding": 4}},
       "y": {"field": "u", "type": "quantitative", "scale": {"domain": [0, 180], "nice": false}, "axis": {"values": [0,20,40,60,80,100,120,140,160,180], "format": "~r", "title": "u", "titleX": -43, "titleBaseline": "alphabetic"}},
       "color": {"field": "s", "type": "nominal", "scale": {"domain": ["INITIAL","T=0.002","T=0.008","T=0.02","T=0.08","T=0.1"], "range": ["#ff2222","#33ffff","#ff00ff","#33ffff","#00ee00","#2222ff"]}}
     }},
    {"mark": {"type": "line", "opacity": 0},
     "encoding": {
       "x": {"field": "x", "type": "quantitative", "scale": {"domain": [-4, 6], "nice": false}, "axis": {"orient": "top", "values": [-4,-3,-2,-1,0,1,2,3,4,5,6], "labels": false, "title": null}},
       "y": {"field": "u", "type": "quantitative", "scale": {"domain": [0, 180], "nice": false}, "axis": {"orient": "right", "values": [0,20,40,60,80,100,120,140,160,180], "labels": false, "title": null}},
       "detail": {"field": "s"}
     }}
  ],
  "resolve": {"axis": {"x": "independent", "y": "independent"}}
}
]
}
